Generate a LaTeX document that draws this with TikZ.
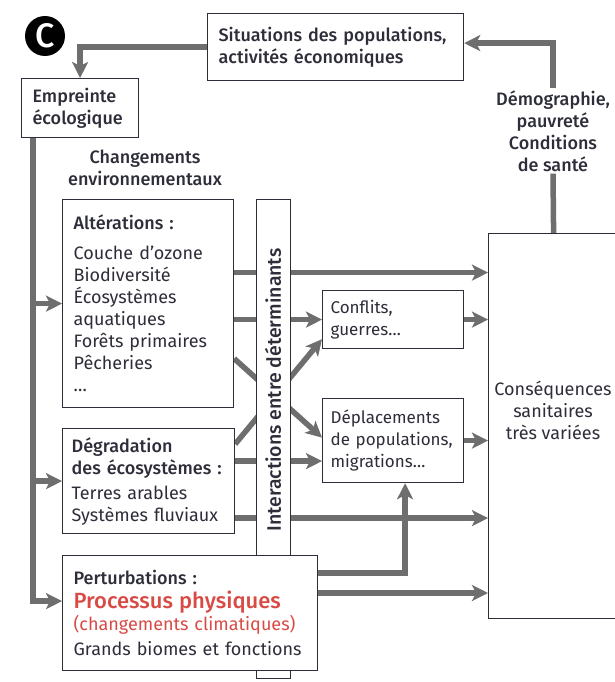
\documentclass[tikz,border=0pt]{standalone}
\usepackage{fontspec}
\setmainfont{Fira Sans}[BoldFont={Fira Sans Medium}]
\usetikzlibrary{arrows.meta,positioning,backgrounds}
\definecolor{linegray}{HTML}{6E6E6E}
\definecolor{inkgray}{HTML}{2E2E3A}
\definecolor{climred}{HTML}{D94A45}
\hyphenpenalty=10000
\tikzset{
	x=1pt,y=-1pt,
	every node/.style={text=inkgray,font=\fontsize{18}{22}\selectfont},
	box/.style={draw=inkgray,line width=1.2pt,fill=white,rectangle,align=left,anchor=north west,inner xsep=11pt,inner ysep=4pt},
	small/.style={font=\fontsize{17}{22}\selectfont},
	link/.style={draw=linegray,line width=5.5pt},
	tip/.style={link,-{Stealth[length=16pt,width=16pt,inset=4pt]}},
	head/.style={font=\bfseries\fontsize{18}{22}\selectfont}
}

\begin{document}
\begin{tikzpicture}
	\useasboundingbox (0,0) rectangle (615,682);
	% badge and top row
	\node[circle,fill=black,minimum size=40pt,inner sep=0pt,text=white,font=\bfseries\fontsize{34}{34}\selectfont] (badge) at (45,36) {C};
	\node[box,head,text width=234pt,minimum height=67pt] (sit) at (207,13) {Situations des populations,\\activités économiques};
	\node[box,head,text width=95pt,minimum height=59pt] (emp) at (21,78) {Empreinte\\écologique};
	\node[head,align=center] (chg) at (145,168) {Changements\\environnementaux};
	\node[head,align=center,inner sep=2pt] (dem) at (553,131) {Démographie,\\pauvreté\\Conditions\\de santé};

	% environmental changes
	\node[box,text width=149pt,minimum height=208pt] (alt) at (62,199)
		{\textbf{Altérations :}\\[8pt]Couche d’ozone\\Biodiversité\\Écosystèmes\\aquatiques\\Forêts primaires\\Pêcheries\\\dots};
	\node[draw=inkgray,line width=1.2pt,fill=white,anchor=north west,minimum width=34pt,minimum height=479pt,inner sep=0pt] (inter) at (256,199) {};
	\node[head,rotate=90,font=\bfseries\fontsize{19.5}{22}\selectfont] (interlbl) at (273,390) {Interactions entre déterminants};
	\node[box,inner xsep=9pt,text width=154pt,minimum height=105pt] (deg) at (62,428)
		{\textbf{Dégradation}\\\textbf{des écosystèmes :}\\[3pt]Terres arables\\Systèmes fluviaux};
	\node[box,text width=233pt,minimum height=115pt] (per) at (62,555)
		{\textbf{Perturbations :}\\[2pt]{\color{climred}\bfseries\fontsize{22}{24}\selectfont Processus physiques}\\{\color{climred}(changements climatiques)}\\[3pt]Grands biomes et fonctions};

	% intermediate effects
	\node[box,small,inner xsep=8pt,text width=125pt,minimum height=58pt] (conf) at (322,290) {Conflits,\\guerres…};
	\node[box,small,inner xsep=8pt,text width=125pt,minimum height=84pt] (dep) at (322,398) {Déplacements\\\mbox{de populations,}\\migrations…};
	\node[box,inner xsep=3pt,text width=124pt,minimum height=385pt] (cons) at (488,233) {};
	\node[align=center] (conslbl) at (553,410) {Conséquences\\sanitaires\\très variées};

	\begin{scope}[on background layer]
		\draw[tip] (sit.west) -| (emp.north);
		\draw[tip] ([xshift=12pt]emp.south west) coordinate (e0) |- ([yshift=12pt]per.west);
		\draw[tip] (e0 |- alt.west) -- (alt.west);
		\draw[tip] (e0 |- deg.west) -- (deg.west);
		\draw[link] (cons.north) -- (dem.south);
		\draw[tip] (dem.north) |- ([yshift=4pt]sit.east);

		\draw[tip] ([yshift=31pt]alt.east) coordinate (a1) -- (a1 -| cons.west);
		\draw[tip] (alt.east |- conf.west) -- (conf.west);
		\draw[tip] (conf.east) -- (conf.east -| cons.west);
		\draw[tip] ([yshift=-55pt]alt.east) -- ([yshift=3pt]dep.west);
		\draw[tip] ([yshift=-16pt]deg.north east) -- ([yshift=10pt]conf.south west);
		\draw[tip] ([yshift=20pt]deg.east) coordinate (d1) -- (d1 -| dep.west);
		\draw[tip] (dep.east) -- (dep.east -| cons.west);
		\draw[tip] ([yshift=-37pt]deg.east) coordinate (d2) -- (d2 -| cons.west);
		\draw[tip] ([yshift=-18pt]per.north east) -| ([xshift=12pt]dep.south);
		\draw[tip] ([yshift=-38pt]per.north east) coordinate (p1) -- (p1 -| cons.west);
	\end{scope}
\end{tikzpicture}
\end{document}
